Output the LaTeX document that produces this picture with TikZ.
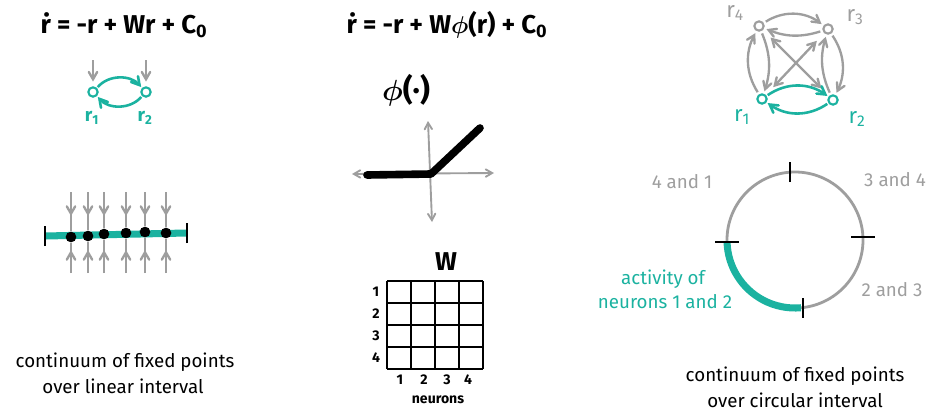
\documentclass[tikz,border=0pt]{standalone}
\usepackage{amsmath}
\usepackage{fontspec}
\setmainfont{Fira Sans}
\usepackage{xcolor}
\usepackage{tikz}
\usetikzlibrary{shapes.geometric, arrows, positioning}
\definecolor{tealink}{RGB}{27,178,160}
\definecolor{grayink}{RGB}{158,158,158}
\tikzstyle{neuron} = [circle, draw=tealink, line width=1.8pt, minimum size=0.28cm, inner sep=0pt]
\tikzstyle{gneuron} = [neuron, draw=grayink]
\tikzstyle{arrow} = [line width=2pt,->,>=angle 60]
\tikzstyle{input} = [arrow, draw=grayink]
\tikzstyle{loop} = [arrow, draw=tealink, line width=2.2pt, shorten >=1pt, shorten <=1pt]
\tikzstyle{garrow} = [arrow, draw=grayink, shorten >=2pt, shorten <=2pt]
\tikzstyle{fixpt} = [circle, fill=black, minimum size=0.32cm, inner sep=0pt]
\tikzstyle{tickmark} = [line width=1.8pt, black]
\tikzstyle{gridline} = [line width=1.8pt, black]
\tikzstyle{eqn} = [font=\fontsize{22}{26}\selectfont\bfseries]
\tikzstyle{caption} = [font=\fontsize{16}{19}\selectfont, text centered]
\tikzstyle{tlabel} = [font=\fontsize{16}{19}\selectfont, text=tealink]
\tikzstyle{glabel} = [font=\fontsize{16}{19}\selectfont, text=grayink]
\tikzstyle{rlabel} = [font=\fontsize{19}{22}\selectfont\mdseries]
\tikzstyle{small} = [font=\fontsize{12}{14}\selectfont\bfseries]

\begin{document}
\begin{tikzpicture}[x=0.03cm, y=-0.03cm]
        \useasboundingbox (0,0) rectangle (933,414);

        \node[eqn] (eqlin) at (124,25) {\.{r} = -r + Wr + C\textsubscript{0}};
        \node[neuron] (a1) at (93,92) {};
        \node[neuron] (a2) at (146,92) {};
        \coordinate (a1in) at (93,60);
        \coordinate (a2in) at (146,60);
        \draw[input, shorten >=4pt] (a1in) -- (a1);
        \draw[input, shorten >=4pt] (a2in) -- (a2);
        \draw[loop] (a1.north east) to[bend left=50] (a2.north west);
        \draw[loop] (a2.south west) to[bend left=50] (a1.south east);
        \node[tlabel, font=\fontsize{16}{19}\selectfont\bfseries] (a1lab) at (92,118) {r\textsubscript{1}};
        \node[tlabel, font=\fontsize{16}{19}\selectfont\bfseries] (a2lab) at (145,118) {r\textsubscript{2}};

        \coordinate (lineL) at (45,236);
        \coordinate (lineR) at (187,233);
        \draw[tealink, line width=6pt] (lineL) -- (lineR);
        \draw[tickmark] ([yshift=-0.3cm]lineL) -- ([yshift=0.3cm]lineL);
        \draw[tickmark] ([yshift=-0.3cm]lineR) -- ([yshift=0.3cm]lineR);
        \foreach \x/\y in {71/237, 88/236, 104/234, 126/233, 145/232, 166/233} {
            \node[fixpt] (fp\x) at (\x,\y) {};
            \draw[input] (\x,192) -- (\x,216);
            \draw[grayink, line width=2pt] (\x,214) -- (fp\x);
            \draw[input] (\x,273) -- (\x,250);
            \draw[grayink, line width=2pt] (\x,252) -- (fp\x);
        }
        \node[caption] (caplin1) at (125,362) {continuum of fixed points};
        \node[caption] (caplin2) at (123,386) {over linear interval};

        \node[eqn] (eqnonlin) at (447,25) {\.{r} = -r + W$\boldsymbol{\phi}$(r) + C\textsubscript{0}};
        \node[eqn, font=\fontsize{26}{30}\selectfont\bfseries] (phi) at (406,90) {$\boldsymbol{\phi}$(·)};
        \coordinate (xl) at (352,174);
        \coordinate (xr) at (494,173);
        \coordinate (yt) at (428,121);
        \coordinate (yb) at (432,222);
        \coordinate (kink) at (431,174);
        \draw[grayink, line width=1.6pt, <->, >=angle 60] (xl) -- (xr);
        \draw[grayink, line width=1.6pt, <->, >=angle 60] (yt) -- (yb);
        \draw[black, line width=6.5pt, line cap=round, line join=round] (367,175) -- (kink) -- (480,128);

        \node[eqn] (wlab) at (446,262) {W};
        \foreach \i in {0,...,4} {
            \draw[gridline] ({387+24*\i},281) -- ({387+24*\i},369);
            \draw[gridline] (387,{281+22*\i}) -- (483,{281+22*\i});
        }
        \foreach \n/\y in {1/292, 2/314, 3/336, 4/358} {
            \node[small] (row\n) at (376,\y) {\n};
        }
        \foreach \n/\x in {1/400, 2/424, 3/447, 4/468} {
            \node[small] (col\n) at (\x,380) {\n};
        }
        \node[small] (neurons) at (438,400) {neurons};

        \node[rlabel, text=grayink] (r4lab) at (735,13) {r\textsubscript{4}};
        \node[rlabel, text=grayink] (r3lab) at (855,17) {r\textsubscript{3}};
        \node[rlabel, text=tealink] (r1lab) at (742,117) {r\textsubscript{1}};
        \node[rlabel, text=tealink] (r2lab) at (857,119) {r\textsubscript{2}};
        \node[gneuron] (r4) at (759,26) {};
        \node[gneuron] (r3) at (828,29) {};
        \node[neuron] (r1) at (762,99) {};
        \node[neuron] (r2) at (833,100) {};
        \draw[garrow] (r4) to[bend left=35] (r3);
        \draw[garrow] (r3) to[bend left=20] (r4);
        \draw[garrow] (r1) to[bend left=30] (r4);
        \draw[garrow] (r4) to[bend left=20] (r1);
        \draw[garrow] (r2) to[bend left=20] (r3);
        \draw[garrow] (r3) to[bend left=30] (r2);
        \draw[garrow, <->, shorten >=9pt, shorten <=9pt] (r1) -- (r3);
        \draw[garrow, <->, shorten >=9pt, shorten <=9pt] (r2) -- (r4);
        \draw[loop] (r1) to[bend left=35] (r2);
        \draw[loop] (r2) to[bend left=35] (r1);

        \coordinate (ringc) at (795,240);
        \draw[grayink, line width=2.4pt] (ringc) circle[radius=2.04cm];
        \path (ringc) ++(94:2.04cm) coordinate (tkTop);
        \path (ringc) ++(2.5:2.04cm) coordinate (tkRight);
        \path (ringc) ++(-83:2.04cm) coordinate (tkBottom);
        \path (ringc) ++(182:2.04cm) coordinate (tkLeft);
        \draw[tealink, line width=6pt] (tkLeft) arc[start angle=182, end angle=275, radius=2.04cm];
        \draw[tickmark] ([yshift=-0.3cm]tkTop) -- ([yshift=0.3cm]tkTop);
        \draw[tickmark] ([yshift=-0.3cm]tkBottom) -- ([yshift=0.3cm]tkBottom);
        \draw[tickmark] ([xshift=-0.35cm]tkRight) -- ([xshift=0.35cm]tkRight);
        \draw[tickmark] ([xshift=-0.35cm]tkLeft) -- ([xshift=0.35cm]tkLeft);
        \node[glabel] (seg41) at (682,182) {4 and 1};
        \node[glabel] (seg34) at (895,180) {3 and 4};
        \node[glabel] (seg23) at (892,290) {2 and 3};
        \node[tlabel] (act1) at (663,279) {activity of};
        \node[tlabel] (act2) at (665,302) {neurons 1 and 2};

        \node[caption] (capcirc1) at (795,376) {continuum of fixed points};
        \node[caption] (capcirc2) at (795,400) {over circular interval};
    \end{tikzpicture}
\end{document}
